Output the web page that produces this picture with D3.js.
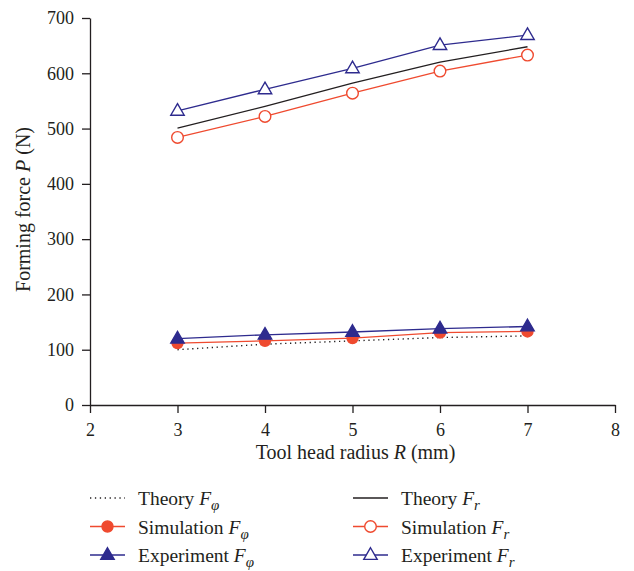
<!DOCTYPE html>
<html>
<head>
<meta charset="utf-8">
<script src="https://cdn.jsdelivr.net/npm/d3@7"></script>
<style>
  body { margin: 0; background: #fff; }
  text { font-family: "Liberation Serif", "DejaVu Serif", serif; fill: #231f20; }
</style>
</head>
<body>
<div id="chart-container"></div>
<script>
// tool head radius R (mm) vs forming force P (N)
const radius = [3, 4, 5, 6, 7];

const theoryFphi = [100, 110, 116, 122, 125];
const simFphi = [112, 116, 121, 131, 133];
const expFphi = [120, 127, 132, 138, 142];

const theoryFr = [501, 540, 582, 620, 648];
const simFr = [484, 522, 564, 604, 633];
const expFr = [532, 571, 609, 651, 669];

const xTicks = [2, 3, 4, 5, 6, 7, 8];
const yTicks = [0, 100, 200, 300, 400, 500, 600, 700];

const red = "#ef4a2f";
const blue = "#2e2b8e";

const margin = { top: 18, right: 19, bottom: 166, left: 90 };
const width = 634 - margin.left - margin.right;
const height = 571 - margin.top - margin.bottom;

const svg = d3
  .select("#chart-container")
  .append("svg")
  .attr("width", 634)
  .attr("height", 571);

const g = svg
  .append("g")
  .attr("transform", "translate(" + margin.left + "," + margin.top + ")");

const xScale = d3.scaleLinear().domain([2, 8]).range([0, width]);
const yScale = d3.scaleLinear().domain([0, 700]).range([height, 0]);

// axes
const xAxis = g
  .append("g")
  .attr("transform", "translate(0," + height + ")")
  .call(
    d3.axisBottom(xScale)
      .tickValues(xTicks)
      .tickFormat(d3.format("d"))
      .tickSize(8)
      .tickSizeOuter(0)
      .tickPadding(10)
  );
const yAxis = g
  .append("g")
  .call(
    d3.axisLeft(yScale)
      .tickValues(yTicks)
      .tickSize(8)
      .tickSizeOuter(0)
      .tickPadding(8)
  );

[xAxis, yAxis].forEach(ax => {
  ax.select(".domain").attr("stroke", "#231f20").attr("stroke-width", 1.3);
  ax.selectAll(".tick line").attr("stroke", "#231f20").attr("stroke-width", 1.3);
  ax.selectAll(".tick text")
    .attr("font-family", "Liberation Serif, DejaVu Serif, serif")
    .attr("font-size", "18px")
    .attr("fill", "#231f20");
});

// axis titles
g.append("text")
  .attr("x", width / 2 + 3)
  .attr("y", height + 54)
  .attr("text-anchor", "middle")
  .attr("font-size", "20px")
  .call(t => {
    t.append("tspan").text("Tool head radius ");
    t.append("tspan").attr("font-style", "italic").text("R");
    t.append("tspan").text(" (mm)");
  });

g.append("text")
  .attr("transform", "translate(" + (-60) + "," + (height / 2 - 2) + ")rotate(-90)")
  .attr("text-anchor", "middle")
  .attr("font-size", "20px")
  .call(t => {
    t.append("tspan").text("Forming force ");
    t.append("tspan").attr("font-style", "italic").text("P");
    t.append("tspan").text(" (N)");
  });

const series = [
  { name: "Theory", sub: "φ", values: theoryFphi, color: "#231f20", dash: "1.3,3.6", marker: null },
  { name: "Simulation", sub: "φ", values: simFphi, color: red, marker: "circle", fill: true },
  { name: "Experiment", sub: "φ", values: expFphi, color: blue, marker: "triangle", fill: true },
  { name: "Theory", sub: "r", values: theoryFr, color: "#231f20", dash: null, marker: null },
  { name: "Simulation", sub: "r", values: simFr, color: red, marker: "circle", fill: false },
  { name: "Experiment", sub: "r", values: expFr, color: blue, marker: "triangle", fill: false }
];

const line = d3
  .line()
  .x((d, i) => xScale(radius[i]))
  .y(d => yScale(d));

const triPath = d3.symbol().type(d3.symbolTriangle).size(78);

function drawMarker(sel, s, x, y) {
  if (s.marker === "circle") {
    sel.append("circle")
      .attr("cx", x).attr("cy", y).attr("r", s.fill ? 5.5 : 5.8)
      .attr("fill", s.fill ? s.color : "#fff")
      .attr("stroke", s.color)
      .attr("stroke-width", 1.4);
  } else if (s.marker === "triangle") {
    sel.append("path")
      .attr("d", triPath())
      .attr("transform", "translate(" + x + "," + (y + 0.5) + ")")
      .attr("fill", s.fill ? s.color : "#fff")
      .attr("stroke", s.color)
      .attr("stroke-width", 1.4);
  }
}

series.forEach(s => {
  g.append("path")
    .datum(s.values)
    .attr("fill", "none")
    .attr("stroke", s.color)
    .attr("stroke-width", s.dash ? 1.4 : 1.3)
    .attr("stroke-dasharray", s.dash)
    .attr("d", line);
  s.values.forEach((v, i) => drawMarker(g, s, xScale(radius[i]), yScale(v)));
});

// legend
const legend = svg.append("g");
series.forEach((s, i) => {
  const col = Math.floor(i / 3);
  const row = i % 3;
  const x0 = col === 0 ? 90 : 353;
  const y0 = 498 + row * 28.5;
  const lg = legend.append("g");
  lg.append("line")
    .attr("x1", x0).attr("x2", x0 + 35)
    .attr("y1", y0).attr("y2", y0)
    .attr("stroke", s.color)
    .attr("stroke-width", s.dash ? 1.4 : 1.3)
    .attr("stroke-dasharray", s.dash);
  drawMarker(lg, s, x0 + 17.5, y0);
  lg.append("text")
    .attr("x", col === 0 ? 138 : 401)
    .attr("y", y0 + 7)
    .attr("font-size", "19.5px")
    .call(t => {
      t.append("tspan").text(s.name + " ");
      t.append("tspan").attr("font-style", "italic").text("F");
      t.append("tspan")
        .attr("font-style", "italic")
        .attr("font-size", "15px")
        .attr("dy", 5)
        .text(s.sub);
    });
});
</script>
</body>
</html>
